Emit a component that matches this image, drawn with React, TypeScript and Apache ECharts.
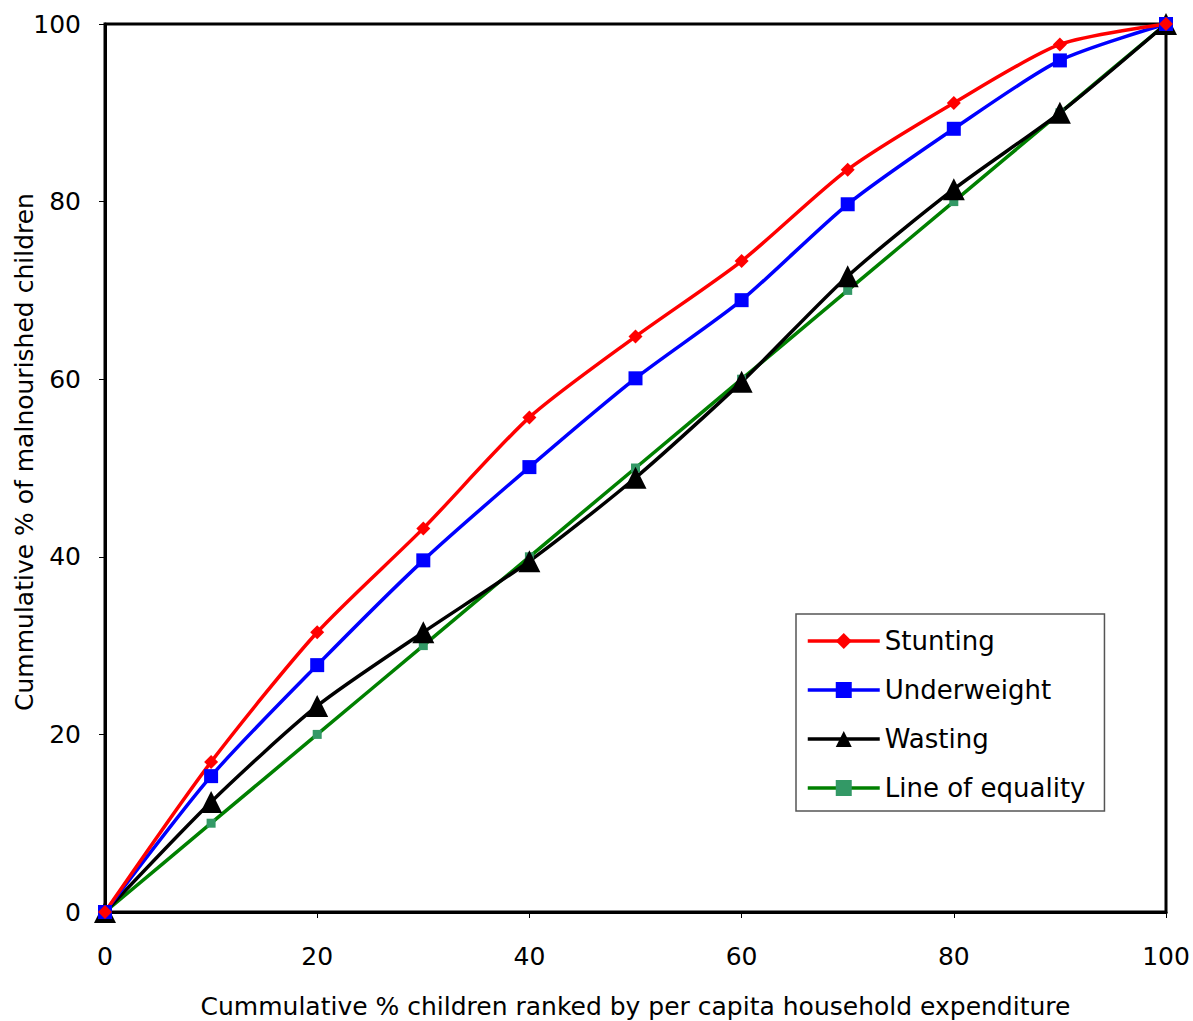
import React, { useEffect, useRef } from "react";
import * as echarts from "echarts";

const xValues = [0, 10, 20, 30, 40, 50, 60, 70, 80, 90, 100];
const stunting = [0, 16.9, 31.5, 43.2, 55.7, 64.8, 73.3, 83.6, 91.1, 97.7, 100];
const underweight = [0, 15.3, 27.8, 39.6, 50.1, 60.1, 68.9, 79.7, 88.2, 95.9, 100];
const wasting = [0, 12.4, 23.2, 31.5, 39.5, 48.9, 59.7, 71.6, 81.4, 90.0, 100];
const equality = [0, 10, 20, 30, 40, 50, 60, 70, 80, 90, 100];
const yAxisTitle = "Cummulative % of malnourished children";
const xAxisTitle = "Cummulative % children ranked by per capita household expenditure";

const FONT = "'DejaVu Sans', Verdana, sans-serif";

export default function App() {
  const ref = useRef<HTMLDivElement>(null);
  useEffect(() => {
    if (!ref.current) return;
    const chart = echarts.init(ref.current, null, { renderer: "svg" });
    const pair = (ys: number[]) => xValues.map((x, i) => [x, ys[i]]);
    const mk = (name: string, ys: number[], color: string, symbol: string, size: number, symColor?: string) => ({
      name,
      type: "line",
      data: pair(ys),
      smooth: 0.25,
      symbol,
      symbolSize: size,
      showAllSymbol: true,
      lineStyle: { color, width: 3.5 },
      itemStyle: { color: symColor || color, borderWidth: 0 },
      emphasis: { disabled: true },
      z: 3,
    });
    chart.setOption({
      animation: false,
      backgroundColor: "#ffffff",
      textStyle: { fontFamily: FONT },
      grid: {
        left: 105, top: 24, right: 27, bottom: 109,
        containLabel: false, outerBoundsMode: "none",
        show: true, borderColor: "#000", borderWidth: 3, backgroundColor: "transparent",
      },
      graphic: [
        {
          type: "text",
          x: 24,
          y: 452,
          rotation: Math.PI / 2,
          style: {
            text: yAxisTitle,
            fontSize: 25,
            fontFamily: FONT,
            fill: "#000",
            align: "center",
            verticalAlign: "middle",
            textAlign: "center",
            textVerticalAlign: "middle",
          },
        },
      ],
      xAxis: {
        type: "value",
        min: 0,
        max: 100,
        interval: 20,
        name: xAxisTitle,
        nameLocation: "middle",
        nameGap: 82,
        nameTextStyle: { fontSize: 25, color: "#000", fontFamily: FONT },
        axisLine: { show: true, onZero: false, lineStyle: { color: "#000", width: 3 } },
        axisTick: { show: true, inside: false, length: 6, lineStyle: { color: "#000", width: 1 } },
        axisLabel: { fontSize: 25, color: "#000", margin: 32, fontFamily: FONT },
        splitLine: { show: false },
      },
      yAxis: {
        type: "value",
        min: 0,
        max: 100,
        interval: 20,
        axisLine: { show: true, onZero: false, lineStyle: { color: "#000", width: 3 } },
        axisTick: { show: true, inside: false, length: 6, lineStyle: { color: "#000", width: 1 } },
        axisLabel: { fontSize: 25, color: "#000", margin: 24, fontFamily: FONT },
        splitLine: { show: false },
      },
      legend: {
        show: true,
        orient: "vertical",
        left: 796,
        top: 614,
        padding: [14, 19, 10, 10],
        itemGap: 23,
        itemWidth: 72,
        itemHeight: 20,
        borderColor: "#555",
        borderWidth: 1.5,
        backgroundColor: "#fff",
        lineStyle: { width: 3.5 },
        textStyle: { fontSize: 26, color: "#000", fontFamily: FONT, padding: [0, 0, 0, 0] },
        data: ["Stunting", "Underweight", "Wasting", "Line of equality"],
      },
      series: [
        mk("Line of equality", equality, "#008000", "rect", 9, "#339966"),
        mk("Wasting", wasting, "#000000", "triangle", 22),
        mk("Underweight", underweight, "#0000ff", "rect", 14),
        mk("Stunting", stunting, "#ff0000", "diamond", 14),
      ],
    });
    return () => chart.dispose();
  }, []);
  return <div ref={ref} style={{ position: "fixed", left: 0, top: 0, width: 1193, height: 1021 }} />;
}
